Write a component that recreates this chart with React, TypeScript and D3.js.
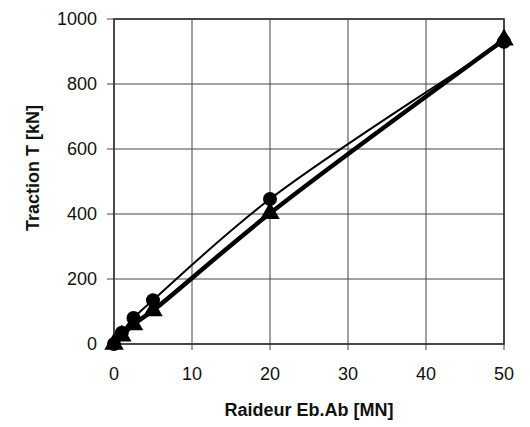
import { useEffect, useRef } from "react";
import * as d3 from "d3";

const X_VALUES = [0, 1, 2.5, 5, 20, 50];
const CIRCLE_VALUES = [0, 35, 80, 135, 446, 930];
const TRIANGLE_VALUES = [0, 25, 60, 103, 402, 936];
const X_TICKS = [0, 10, 20, 30, 40, 50];
const Y_TICKS = [0, 200, 400, 600, 800, 1000];
const X_TITLE = "Raideur Eb.Ab [MN]";
const Y_TITLE = "Traction T [kN]";

const WIDTH = 530;
const HEIGHT = 427;
const MARGIN = { left: 114, right: 26, top: 19, bottom: 83 };
const FONT = "'Liberation Sans', Arial, sans-serif";
const INK = "#111";

export default function App() {
  const svgRef = useRef<SVGSVGElement>(null);

  useEffect(() => {
    const svg = d3.select(svgRef.current);
    svg.selectAll("*").remove();

    const x = d3
      .scaleLinear()
      .domain([0, 50])
      .range([MARGIN.left, WIDTH - MARGIN.right]);
    const y = d3
      .scaleLinear()
      .domain([0, 1000])
      .range([HEIGHT - MARGIN.bottom, MARGIN.top]);

    const [x0, x1] = x.range();
    const [y0, y1] = y.range();

    // grid
    const grid = svg.append("g").attr("stroke", "#444").attr("stroke-width", 1);
    X_TICKS.forEach((t) => {
      grid
        .append("line")
        .attr("x1", x(t))
        .attr("x2", x(t))
        .attr("y1", y1)
        .attr("y2", y0 + 6);
    });
    Y_TICKS.forEach((t) => {
      grid
        .append("line")
        .attr("x1", x0 - 7)
        .attr("x2", x1)
        .attr("y1", y(t))
        .attr("y2", y(t));
    });

    // frame
    svg
      .append("rect")
      .attr("x", x0)
      .attr("y", y1)
      .attr("width", x1 - x0)
      .attr("height", y0 - y1)
      .attr("fill", "none")
      .attr("stroke", "#333")
      .attr("stroke-width", 1.6);

    // tick labels
    svg
      .append("g")
      .selectAll("text")
      .data(X_TICKS)
      .join("text")
      .attr("x", (d) => x(d))
      .attr("y", y0 + 36)
      .attr("text-anchor", "middle")
      .attr("font-family", FONT)
      .attr("font-size", 18)
      .attr("fill", INK)
      .text((d) => d);

    svg
      .append("g")
      .selectAll("text")
      .data(Y_TICKS)
      .join("text")
      .attr("x", x0 - 17)
      .attr("y", (d) => y(d))
      .attr("dy", "0.35em")
      .attr("text-anchor", "end")
      .attr("font-family", FONT)
      .attr("font-size", 18)
      .attr("fill", INK)
      .text((d) => d);

    // axis titles
    svg
      .append("text")
      .attr("x", (x0 + x1) / 2)
      .attr("y", y0 + 72)
      .attr("text-anchor", "middle")
      .attr("font-family", FONT)
      .attr("font-size", 18)
      .attr("font-weight", "bold")
      .attr("fill", INK)
      .text(X_TITLE);

    svg
      .append("text")
      .attr("transform", `translate(39, 168) rotate(-90)`)
      .attr("text-anchor", "middle")
      .attr("font-family", FONT)
      .attr("font-size", 18)
      .attr("font-weight", "bold")
      .attr("fill", INK)
      .text(Y_TITLE);

    const line = d3
      .line<number>()
      .x((_, i) => x(X_VALUES[i]))
      .y((d) => y(d))
      .curve(d3.curveCatmullRom.alpha(0.5));

    // triangle series (thick line)
    svg
      .append("path")
      .attr("d", line(TRIANGLE_VALUES)!)
      .attr("fill", "none")
      .attr("stroke", "#000")
      .attr("stroke-width", 4.5);

    // circle series (thin line)
    svg
      .append("path")
      .attr("d", line(CIRCLE_VALUES)!)
      .attr("fill", "none")
      .attr("stroke", "#000")
      .attr("stroke-width", 2);

    svg
      .append("g")
      .selectAll("circle")
      .data(CIRCLE_VALUES)
      .join("circle")
      .attr("cx", (_, i) => x(X_VALUES[i]))
      .attr("cy", (d) => y(d))
      .attr("r", 7)
      .attr("fill", "#000");

    const tri = d3.symbol().type(d3.symbolTriangle).size(165);
    svg
      .append("g")
      .selectAll("path")
      .data(TRIANGLE_VALUES)
      .join("path")
      .attr("transform", (d, i) => `translate(${x(X_VALUES[i])},${y(d)})`)
      .attr("d", tri()!)
      .attr("fill", "#000");
  }, []);

  return (
    <svg
      ref={svgRef}
      width={WIDTH}
      height={HEIGHT}
      style={{ position: "absolute", left: 0, top: 0, background: "#fff" }}
    />
  );
}
